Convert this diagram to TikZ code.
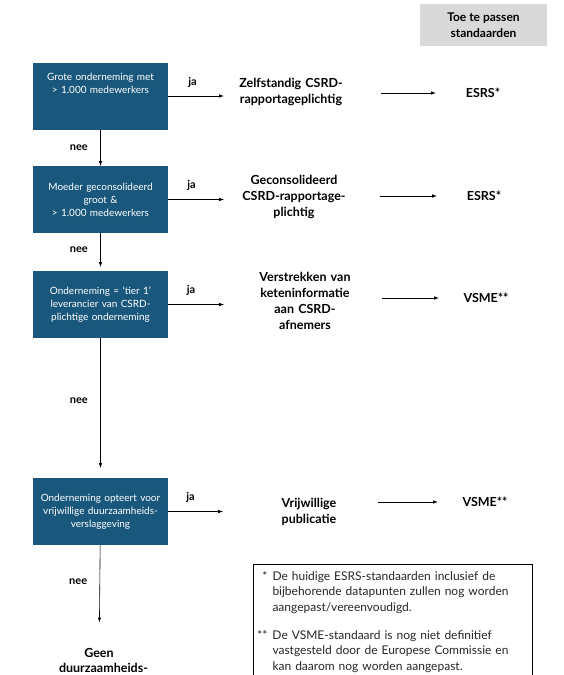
\documentclass[tikz,border=0pt]{standalone}
\usepackage{fontspec}
\setmainfont{Lato}
\usepackage{tikz}
\usetikzlibrary{arrows}
\definecolor{boxblue}{RGB}{25,88,124}
\definecolor{headgray}{RGB}{217,217,217}

\begin{document}
\begin{tikzpicture}[x=1pt,y=-1pt]
\tikzstyle{box}=[rectangle,fill=boxblue,text=white,minimum width=135pt,minimum height=67pt,text width=128pt,align=center,inner sep=0pt,font=\fontsize{10}{13}\selectfont]
\tikzstyle{res}=[text width=110pt,align=center,inner sep=0pt,font=\bfseries\fontsize{12.5}{16}\selectfont]
\tikzstyle{std}=[text width=60pt,align=center,inner sep=0pt,font=\bfseries\fontsize{12.5}{16}\selectfont]
\tikzstyle{lbl}=[font=\bfseries\fontsize{11}{13}\selectfont]
\tikzstyle{arr}=[-latex,line width=0.6pt]
\useasboundingbox (0,0) rectangle (564,675);
\clip (0,0) rectangle (564,675);
% header
\node[fill=headgray,minimum width=127pt,minimum height=42pt,align=center,font=\bfseries\fontsize{12}{16}\selectfont] (head) at (483.5,25) {Toe te passen\\standaarden};
% question boxes
\foreach \name/\point/\txt in {
	b1/{100.5,96}/{Grote onderneming met\\> 1.000 medewerkers\\ \mbox{}\\ \mbox{}},
	b2/{100.5,199.5}/{Moeder geconsolideerd\\groot \&\\> 1.000 medewerkers},
	b3/{100.5,304.5}/{Onderneming = ‘tier 1’\\leverancier van CSRD-\\plichtige onderneming},
	b4/{100.5,511.5}/{Onderneming opteert voor\\vrijwillige duurzaamheids-\\verslaggeving}}
	\node[box] (\name) at (\point) {\txt};
% outcomes
\foreach \name/\point/\txt in {
	r1/{291,92}/{Zelfstandig CSRD-\\rapportageplichtig},
	r2/{294,197}/{Geconsolideerd\\CSRD-rapportage-\\plichtig},
	r3/{305,301}/{Verstrekken van\\keteninformatie\\aan CSRD-\\afnemers},
	r4/{309,512}/{Vrijwillige\\publicatie}}
	\node[res] (\name) at (\point) {\txt};
% standards
\foreach \name/\point/\txt in {
	s1/{483,93}/{ESRS*},
	s2/{484,196}/{ESRS*},
	s3/{486,298}/{VSME**},
	s4/{485,502}/{VSME**}}
	\node[std] (\name) at (\point) {\txt};
\node[res,text width=80pt,font=\bfseries\fontsize{12.5}{15}\selectfont] (geen) at (99,668) {Geen\\duurzaamheids-};
\draw[arr] (b1) -- (b2) node[midway,left=9pt,lbl] {nee};
\draw[arr,shorten >=4pt] (b2) -- (b3) node[pos=0.45,left=9pt,lbl] {nee};
\draw[arr,shorten >=10pt] (b3) -- (b4) node[pos=0.45,left=9pt,lbl] {nee};
\draw[arr,shorten >=26pt] (b4) -- (geen) node[pos=0.35,left=9pt,lbl] {nee};
\draw[arr,shorten >=12pt] (b1) -- (b1 -| r1.west) node[pos=0.36,above=5pt,lbl] {ja};
\draw[arr,shorten >=15pt] (b2) -- (b2 -| r2.west) node[pos=0.33,above=5pt,lbl] {ja};
\draw[arr,shorten >=26pt] (b3) -- (b3 -| r3.west) node[pos=0.28,above=5pt,lbl] {ja};
\draw[arr,shorten >=31pt] (b4) -- (b4 -| r4.west) node[pos=0.26,above=5pt,lbl] {ja};
\draw[arr,shorten <=35pt,shorten >=17pt] (r1.east |- s1) -- (s1);
\draw[arr,shorten <=31pt,shorten >=17pt] (r2.east |- s2) -- (s2);
\draw[arr,shorten <=22pt,shorten >=17pt] (r3.east |- s3) -- (s3);
\draw[arr,shorten <=14pt,shorten >=17pt,yshift=-6pt] (r4.east |- s4) -- (s4);
% footnotes
\node[draw,line width=0.6pt,anchor=north west,text width=271pt,inner xsep=4pt,inner ysep=5pt,align=left,text=black!85,font=\fontsize{12}{15.5}\selectfont] (note) at (253,564) {%
\begin{tabular}{@{}l@{\hspace{5pt}}l@{}}
\hspace*{5pt}* & De huidige ESRS-standaarden inclusief de\\
 & bijbehorende datapunten zullen nog worden\\
 & aangepast/vereenvoudigd.\\[12.5pt]
** & De VSME-standaard is nog niet definitief\\
 & vastgesteld door de Europese Commissie en\\
 & kan daarom nog worden aangepast.
\end{tabular}};
\end{tikzpicture}
\end{document}
